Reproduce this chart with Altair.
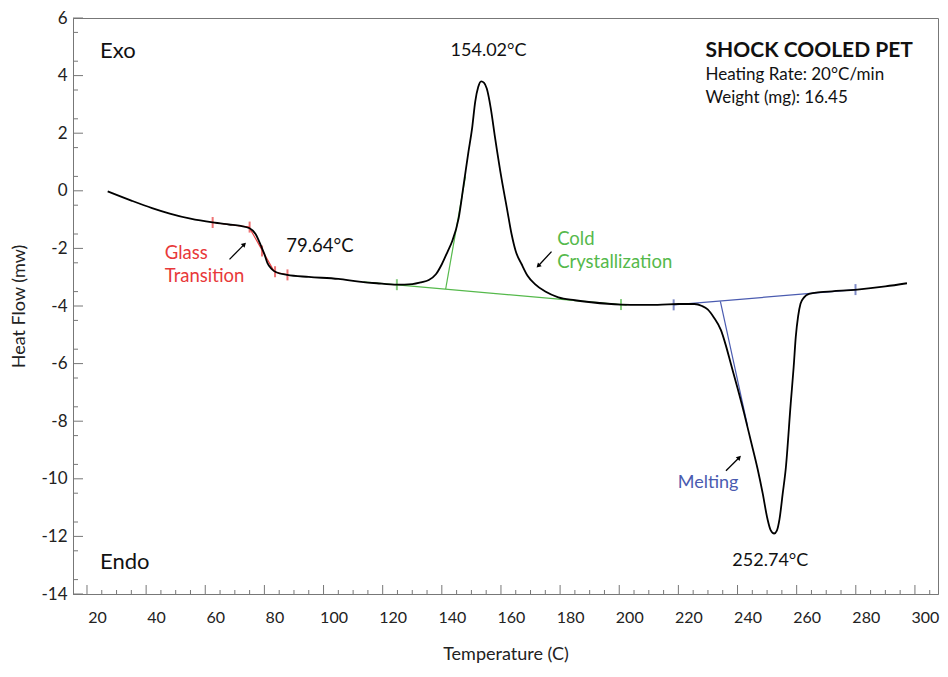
import altair as alt
import pandas as pd

# ---- main DSC curve ----
temp = [27, 35, 42, 48, 55, 62.5, 68, 72, 75, 77, 79, 80, 81, 82.5, 84, 87.7, 95, 105,
        112, 118, 124.8, 130, 133, 135.6, 138, 140, 142, 143.5, 145.7, 147.4, 149, 150.2,
        151.3, 152.3, 153.3, 154.3, 155.2, 156.5, 158, 160.2, 162, 163.6, 165, 167, 169,
        171.5, 175, 179.4, 185, 190.5, 200.6, 207, 213, 220, 225.4, 228, 229.9, 232, 234.4,
        236, 237.7, 240, 242.2, 244.5, 246.8, 248.5, 250.1, 251.2, 252.4, 253.3, 254.2,
        255.3, 256.3, 258, 259, 259.7, 260.5, 261.3, 262.5, 264.2, 268, 272, 280.5, 290, 297.3]
heat = [-0.02, -0.34, -0.60, -0.79, -0.97, -1.10, -1.17, -1.22, -1.30, -1.50, -1.95, -2.20,
        -2.50, -2.72, -2.83, -2.92, -2.99, -3.06, -3.15, -3.21, -3.26, -3.24, -3.18, -3.10,
        -2.90, -2.55, -2.10, -1.75, -0.95, 0.22, 1.35, 2.14, 3.10, 3.60, 3.80, 3.75, 3.55,
        2.90, 1.85, 0.42, -0.60, -1.51, -2.10, -2.55, -2.95, -3.24, -3.50, -3.70, -3.80,
        -3.87, -3.95, -3.96, -3.96, -3.93, -3.93, -4.00, -4.12, -4.40, -4.84, -5.35, -5.99,
        -6.85, -7.71, -8.68, -9.66, -10.50, -11.38, -11.78, -11.90, -11.80, -11.40, -10.50,
        -9.66, -7.37, -6.10, -5.07, -4.35, -3.92, -3.70, -3.58, -3.52, -3.49, -3.43, -3.32, -3.21]

# ---- construction lines (segment id, x, y, colour) ----
seg_id = ["g1", "g1", "g2", "g2", "g3", "g3",
          "c1", "c1", "c2", "c2",
          "m1", "m1", "m2", "m2"]
seg_x = [62.5, 75.0, 75.3, 83.3, 83.6, 87.8,
         113.5, 202.5, 141.3, 148.0,
         218.4, 280.0, 234.2, 243.4]
seg_y = [-1.10, -1.26, -1.35, -2.80, -2.82, -2.92,
         -3.16, -3.97, -3.41, 0.50,
         -3.96, -3.43, -3.84, -8.17]
seg_col = ["red"] * 6 + ["green"] * 4 + ["blue"] * 4

# ---- short markers on the construction lines ----
mark_x = [62.5, 75.0, 79.2, 83.6, 87.8, 124.8, 200.6, 218.4, 279.9]
mark_y = [-1.10, -1.26, -2.09, -2.81, -2.92, -3.26, -3.95, -3.96, -3.43]
mark_col = ["red"] * 5 + ["green"] * 2 + ["blue"] * 2

# ---- arrows ----
arrow_id = ["a1", "a2", "a3"]
arrow_x0 = [68.2, 177.1, 236.1]
arrow_y0 = [-2.38, -2.11, -9.72]
arrow_x1 = [73.2, 172.6, 240.6]
arrow_y1 = [-1.86, -2.61, -9.26]
arrow_angle = [45, 225, 45]

# ---- text annotations ----
txt_label = ["Exo", "Endo", "Glass", "Transition", "79.64°C", "Cold", "Crystallization",
             "Melting", "Heating Rate: 20°C/min", "Weight (mg): 16.45"]
txt_x = [24.4, 24.4, 46.3, 46.3, 87.4, 179.0, 179.0, 219.8, 229.2, 229.2]
txt_y = [4.85, -12.90, -2.16, -2.95, -1.92, -1.68, -2.47, -10.14, 4.02, 3.23]
txt_col = ["black", "black", "red", "red", "black", "green", "green", "blue", "black", "black"]
txt_size = [22, 22, 18.5, 18.5, 18.5, 18.5, 18.5, 18, 17, 17]

ctr_label = ["154.02°C", "252.74°C"]
ctr_x = [155.8, 251.1]
ctr_y = [4.85, -12.86]

title_label = ["SHOCK COOLED PET"]
title_x = [229.2]
title_y = [4.85]

x_major = list(range(20, 301, 20))
x_minor = [v for v in range(20, 306, 5) if v % 20 != 0]
y_major = list(range(-14, 7, 2))
y_minor = [v / 2 for v in range(-27, 12, 2)]

COLORS = {"red": "#e8393a", "green": "#55b94b", "blue": "#4a5bb0", "black": "#111111"}
FONT = "Lato"
W, H = 865, 576
AXIS_COL = "#777777"


def X(field="x"):
    return alt.X(f"{field}:Q",
                 scale=alt.Scale(domain=[15.27, 307.8], nice=False, zero=False),
                 axis=alt.Axis(values=x_major, title="Temperature (C)", ticks=False, tickSize=0,
                               grid=False, labelOffset=10, labelPadding=15, titlePadding=20,
                               domainColor=AXIS_COL, labelFont=FONT, titleFont=FONT,
                               labelFontSize=16, titleFontSize=18, titleFontWeight="normal",
                               labelColor="#222222", titleColor="#222222", labelOverlap=False,
                               labelFlush=False, labelExpr="datum.value + ''"))


def Y(field="y"):
    return alt.Y(f"{field}:Q",
                 scale=alt.Scale(domain=[-14, 6], nice=False, zero=False),
                 axis=alt.Axis(values=y_major, title="Heat Flow (mw)", ticks=False, tickSize=0,
                               grid=False, labelPadding=6, titlePadding=12,
                               domainColor=AXIS_COL, labelFont=FONT, titleFont=FONT,
                               labelFontSize=17, titleFontSize=18, titleFontWeight="normal",
                               labelColor="#222222", titleColor="#222222", labelOverlap=False,
                               labelFlush=False, labelExpr="datum.value + ''"))


col_scale = alt.Scale(domain=list(COLORS.keys()), range=list(COLORS.values()))

curve_df = pd.DataFrame({"x": temp, "y": heat})
seg_df = pd.DataFrame({"seg": seg_id, "x": seg_x, "y": seg_y, "c": seg_col})
mk_df = pd.DataFrame({"x": mark_x, "y": mark_y, "c": mark_col})
arr_rows = []
for i in range(len(arrow_id)):
    arr_rows.append({"seg": arrow_id[i], "x": arrow_x0[i], "y": arrow_y0[i]})
    arr_rows.append({"seg": arrow_id[i], "x": arrow_x1[i], "y": arrow_y1[i]})
arr_df = pd.DataFrame(arr_rows)
head_df = pd.DataFrame({"x": arrow_x1, "y": arrow_y1, "ang": arrow_angle})
txt_df = pd.DataFrame({"x": txt_x, "y": txt_y, "t": txt_label, "c": txt_col, "s": txt_size})
ctr_df = pd.DataFrame({"x": ctr_x, "y": ctr_y, "t": ctr_label})
ttl_df = pd.DataFrame({"x": title_x, "y": title_y, "t": title_label})

curve = alt.Chart(curve_df).mark_line(color="#000000", strokeWidth=1.8, interpolate="monotone").encode(
    x=X(), y=Y())

segs = alt.Chart(seg_df).mark_line(strokeWidth=1.2).encode(
    x=X(), y=Y(), detail="seg:N", color=alt.Color("c:N", scale=col_scale, legend=None))

marks = alt.Chart(mk_df).mark_tick(orient="vertical", size=11, thickness=2).encode(
    x=X(), y=Y(), color=alt.Color("c:N", scale=col_scale, legend=None))

arrows = alt.Chart(arr_df).mark_line(color="#000000", strokeWidth=1.3).encode(
    x=X(), y=Y(), detail="seg:N")

heads = alt.Chart(head_df).mark_point(shape="triangle-up", filled=True, size=28, color="#000000",
                                      opacity=1).encode(
    x=X(), y=Y(), angle=alt.Angle("ang:Q", scale=None))

texts = alt.Chart(txt_df).mark_text(align="left", baseline="middle", font=FONT).encode(
    x=X(), y=Y(), text="t:N", color=alt.Color("c:N", scale=col_scale, legend=None),
    size=alt.Size("s:Q", scale=None, legend=None))

ctexts = alt.Chart(ctr_df).mark_text(align="center", baseline="middle", font=FONT, fontSize=18,
                                     color="#111111").encode(x=X(), y=Y(), text="t:N")

title = alt.Chart(ttl_df).mark_text(align="left", baseline="middle", font=FONT, fontSize=21,
                                    fontWeight="bold", color="#111111").encode(
    x=X(), y=Y(), text="t:N")

xmaj = alt.Chart(pd.DataFrame({"x": x_major})).mark_rule(color=AXIS_COL, strokeWidth=1).encode(
    x=X(), y=alt.value(H), y2=alt.value(H - 9))
xmin = alt.Chart(pd.DataFrame({"x": x_minor})).mark_rule(color=AXIS_COL, strokeWidth=1).encode(
    x=X(), y=alt.value(H), y2=alt.value(H - 4))
ymaj = alt.Chart(pd.DataFrame({"y": y_major})).mark_rule(color=AXIS_COL, strokeWidth=1).encode(
    y=Y(), x=alt.value(0), x2=alt.value(10))
ymin = alt.Chart(pd.DataFrame({"y": y_minor})).mark_rule(color=AXIS_COL, strokeWidth=1).encode(
    y=Y(), x=alt.value(0), x2=alt.value(5))

chart = alt.layer(xmaj, xmin, ymaj, ymin, segs, marks, curve, arrows, heads, texts, ctexts, title).properties(
    width=W, height=H,
    autosize=alt.AutoSizeParams(type="none"),
    padding={"left": 65, "top": 10, "right": 2, "bottom": 74},
    background="white",
).configure_view(stroke=AXIS_COL, strokeWidth=1)

chart.save("out.html", embed_options={"renderer": "svg", "actions": False})
